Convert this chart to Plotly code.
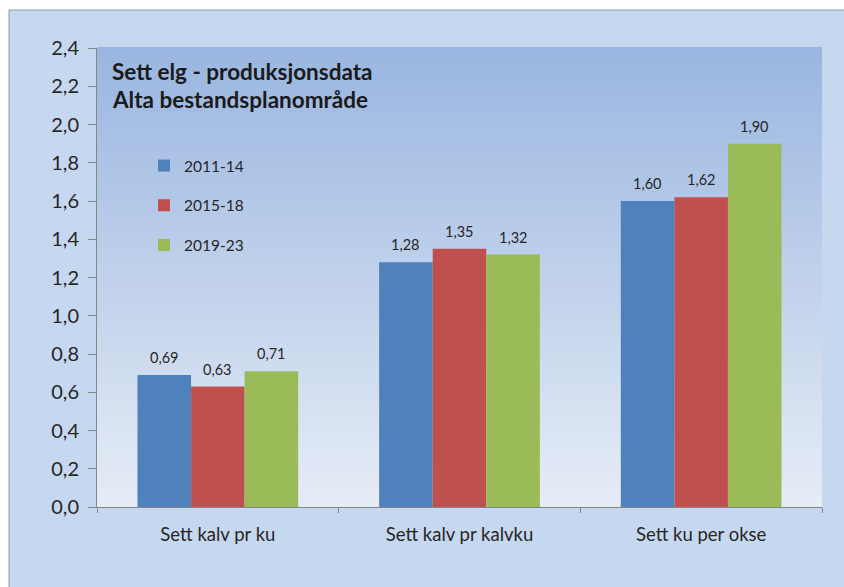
import plotly.graph_objects as go

categories = ["Sett kalv pr ku", "Sett kalv pr kalvku", "Sett ku per okse"]
series_names = ["2011-14", "2015-18", "2019-23"]
values_2011_14 = [0.69, 1.28, 1.60]
values_2015_18 = [0.63, 1.35, 1.62]
values_2019_23 = [0.71, 1.32, 1.90]
colors = ["#4f81bd", "#c0504d", "#9bbb59"]
title_lines = ["Sett elg - produksjonsdata", "Alta bestandsplanområde"]

FONT = "Lato"
W, H = 844, 587
ml, mr, mt, mb = 97, 22, 48, 80
pw, ph = W - ml - mr, H - mt - mb
BARGAP = 0.335
FRAME = "#c6d8ef"


def fx(px):  # page px -> paper x
    return (px - ml) / pw


def fy(py):  # page px -> paper y
    return (H - mb - py) / ph


all_values = [values_2011_14, values_2015_18, values_2019_23]
fig = go.Figure()
for name, vals, col in zip(series_names, all_values, colors):
    fig.add_trace(go.Bar(
        x=categories, y=vals, name=name, marker=dict(color=col, line=dict(width=0)),
        legendgroup=name,
    ))

shapes = []
# white strips outside the chart frame (left and top)
shapes.append(dict(type="rect", xref="paper", yref="paper", x0=fx(-20), x1=fx(9), y0=fy(620), y1=fy(-20),
                   fillcolor="white", line=dict(width=0), layer="below"))
shapes.append(dict(type="rect", xref="paper", yref="paper", x0=fx(-20), x1=fx(900), y0=fy(10), y1=fy(-20),
                   fillcolor="white", line=dict(width=0), layer="below"))
# frame border lines
shapes.append(dict(type="line", xref="paper", yref="paper", x0=fx(9), x1=fx(9), y0=fy(10), y1=fy(620),
                   line=dict(color="#8a9ab0", width=1), layer="below"))
shapes.append(dict(type="line", xref="paper", yref="paper", x0=fx(9), x1=fx(900), y0=fy(10), y1=fy(10),
                   line=dict(color="#8a9ab0", width=1), layer="below"))
# plot area vertical gradient
top = (0x9a, 0xb6, 0xe0)
bot = (0xe6, 0xec, 0xf6)
N = 60
for i in range(N):
    t = i / (N - 1)
    c = tuple(int(round(top[k] + (bot[k] - top[k]) * t)) for k in range(3))
    shapes.append(dict(type="rect", xref="paper", yref="paper",
                       x0=0, x1=1, y0=1 - (i + 1) / N, y1=1 - i / N + 0.002,
                       fillcolor="rgb(%d,%d,%d)" % c, line=dict(width=0), layer="below"))

annotations = []
for j, line in enumerate(title_lines):
    annotations.append(dict(text="<b>%s</b>" % line, xref="paper", yref="paper",
                            x=fx(110), y=fy(56 + j * 28), xanchor="left", yanchor="top",
                            showarrow=False, font=dict(family=FONT, size=22.5, color="#1a1a1a")))

# value labels above bars (offset within group from bar layout)
bar_px = pw / len(categories) * (1 - BARGAP) / len(series_names)
for i, vals in enumerate(all_values):
    for cat, v in zip(categories, vals):
        annotations.append(dict(text=("%.2f" % v).replace(".", ","), x=cat, y=v, xref="x", yref="y",
                                xanchor="center", yanchor="bottom", showarrow=False,
                                xshift=(i - (len(series_names) - 1) / 2) * bar_px, yshift=7,
                                font=dict(family=FONT, size=14.5, color="#262626")))

fig.update_layout(
    width=W, height=H, margin=dict(l=ml, r=mr, t=mt, b=mb),
    paper_bgcolor=FRAME, plot_bgcolor="rgba(0,0,0,0)",
    separators=", ", barmode="group", bargap=BARGAP, bargroupgap=0,
    shapes=shapes, annotations=annotations,
    font=dict(family=FONT, color="#262626"),
    legend=dict(x=fx(144), y=fy(149), xanchor="left", yanchor="top",
                bgcolor="rgba(0,0,0,0)", font=dict(family=FONT, size=15.5, color="#262626"),
                tracegroupgap=16.5, traceorder="grouped", itemwidth=30),
    showlegend=True,
)
fig.update_yaxes(range=[0, 2.4], dtick=0.2, tickformat=".1f", showgrid=False, zeroline=False,
                 showline=True, linecolor="#868686", linewidth=1, ticks="outside", ticklen=8,
                 tickcolor="#868686", ticklabelstandoff=5,
                 tickfont=dict(family=FONT, size=20, color="#262626"))
fig.update_xaxes(showgrid=False, showline=True, linecolor="#868686", linewidth=1, ticks="outside",
                 tickson="boundaries", ticklen=5, tickcolor="#868686", ticklabelstandoff=11,
                 tickfont=dict(family=FONT, size=18.5, color="#262626"))

fig.write_html(
    "out.html",
    config={"displayModeBar": False},
    post_script=(
        "document.body.style.margin='0';"
        "document.documentElement.style.overflow='hidden';"
        "document.body.style.background='" + FRAME + "';"
        "document.documentElement.style.background='" + FRAME + "';"
    ),
)
